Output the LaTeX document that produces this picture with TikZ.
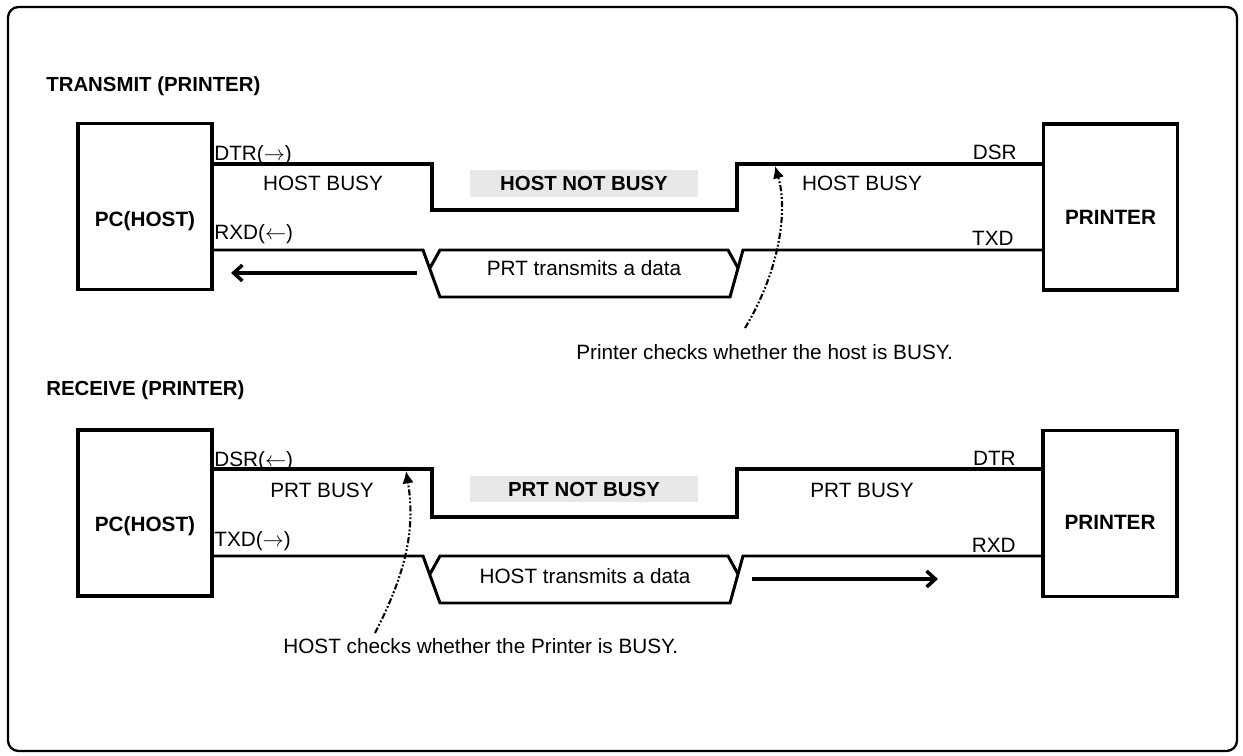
\documentclass[tikz,border=0pt]{standalone}
\usepackage{fontspec}
\setmainfont{Liberation Sans}
\usetikzlibrary{positioning,arrows.meta}
\definecolor{stategray}{RGB}{232,232,232}
\tikzstyle{unit} = [rectangle, draw, line width=2.1pt, minimum width=2.68cm, minimum height=3.32cm, outer sep=0pt]
\tikzstyle{unittext} = [font=\bfseries\fontsize{11.8}{14}\selectfont, inner sep=0pt]
\tikzstyle{title} = [font=\bfseries\fontsize{11.6}{14}\selectfont, inner sep=0pt]
\tikzstyle{sigtext} = [font=\fontsize{11.8}{14}\selectfont, inner sep=0pt]
\tikzstyle{state} = [rectangle, fill=stategray, minimum width=4.56cm, minimum height=0.47cm, font=\bfseries\fontsize{11.6}{14}\selectfont]
\tikzstyle{sig} = [line width=2pt, line join=miter]
\tikzstyle{bus} = [line width=1.7pt]
\tikzstyle{flow} = [line width=2pt, -{Straight Barb[length=5pt,width=9pt]}]
\tikzstyle{check} = [line width=1.2pt, dash pattern=on 3.5pt off 1.2pt on 1pt off 1.2pt on 1pt off 1.2pt, -{Latex[length=7pt,width=6.5pt]}]

\begin{document}
\begin{tikzpicture}[x=0.02cm, y=-0.02cm]
\useasboundingbox (0,0) rectangle (1243,756);

% Frame
\draw[line width=1.3pt, rounded corners=6pt] (8,7) rectangle (1237,751);

% ---------------- TRANSMIT (PRINTER) ----------------
\node[title, anchor=base west] (txtitle) at (46,92) {TRANSMIT (PRINTER)};

% Host and printer
\node[unit] (pc1) at (145,206.5) {};
\node[unittext, anchor=base, yshift=-0.4cm] (pc1txt) at (pc1.center) {PC(HOST)};
\node[unit] (prt1) at (1110.5,207) {};
\node[unittext, anchor=base, yshift=-0.36cm] (prt1txt) at (prt1.center) {PRINTER};

% Levels
\coordinate (hi1) at (0,164);
\coordinate (bt1) at (0,250);

% DTR -> DSR
\draw[sig] (pc1.east |- hi1) -- (432,164) -- (432,210) -- (737,210) -- (737,164) -- (prt1.west |- hi1);

% RXD <- TXD
\draw[bus] (pc1.east |- bt1) -- (423,250) -- (440,297) -- (730,297) -- (743,250) -- (prt1.west |- bt1);
\draw[bus] (430,268) -- (440,250) -- (728,250) -- (738,268);

% Signal names
\node[sigtext, anchor=base west] (dtr1) at (214,161) {DTR($\rightarrow$)};
\node[sigtext, anchor=base west] (rxd1) at (214,240) {RXD($\leftarrow$)};
\node[sigtext, anchor=base east] (dsr1) at (1017,160) {DSR};
\node[sigtext, anchor=base east] (txd1) at (1014,246) {TXD};

% States
\node[sigtext, anchor=base] (busy1a) at (323,191) {HOST BUSY};
\node[sigtext, anchor=base] (busy1b) at (862,191) {HOST BUSY};
\node[state] (free1) at (584,183.5) {HOST NOT BUSY};
\node[sigtext, anchor=base] (data1) at (584,276) {PRT transmits a data};

% Data direction
\coordinate (rx1from) at (417,273);
\coordinate (rx1to) at (231,273);
\draw[flow] (rx1from) -- (rx1to);

% Printer check
\node[sigtext, anchor=base west] (note1) at (576,360) {Printer checks whether the host is BUSY.};
\coordinate (chk1from) at (745,328);
\coordinate (chk1) at (775,166);
\draw[check] (chk1from) .. controls (780,270) and (788,210) .. (chk1);

% ---------------- RECEIVE (PRINTER) ----------------
\node[title, anchor=base west] (rxtitle) at (46,396) {RECEIVE (PRINTER)};

% Host and printer
\node[unit] (pc2) at (145,513) {};
\node[unittext, anchor=base, yshift=-0.38cm] (pc2txt) at (pc2.center) {PC(HOST)};
\node[unit] (prt2) at (1110,513.5) {};
\node[unittext, anchor=base, yshift=-0.33cm] (prt2txt) at (prt2.center) {PRINTER};

% Levels
\coordinate (hi2) at (0,469);
\coordinate (bt2) at (0,556);

% DSR <- DTR
\draw[sig] (pc2.east |- hi2) -- (432,469) -- (432,517) -- (737,517) -- (737,469) -- (prt2.west |- hi2);

% TXD -> RXD
\draw[bus] (pc2.east |- bt2) -- (423,556) -- (440,603) -- (730,603) -- (743,556) -- (prt2.west |- bt2);
\draw[bus] (430,574) -- (440,556) -- (728,556) -- (738,574);

% Signal names
\node[sigtext, anchor=base west] (dsr2) at (214,466) {DSR($\leftarrow$)};
\node[sigtext, anchor=base west] (txd2) at (214,546) {TXD($\rightarrow$)};
\node[sigtext, anchor=base east] (dtr2) at (1016,465) {DTR};
\node[sigtext, anchor=base east] (rxd2) at (1016,552) {RXD};

% States
\node[sigtext, anchor=base] (busy2a) at (322,497) {PRT BUSY};
\node[sigtext, anchor=base] (busy2b) at (862,497) {PRT BUSY};
\node[state] (free2) at (584,489) {PRT NOT BUSY};
\node[sigtext, anchor=base] (data2) at (585,583) {HOST transmits a data};

% Data direction
\coordinate (tx2from) at (752,579);
\coordinate (tx2to) at (938,579);
\draw[flow] (tx2from) -- (tx2to);

% Host check
\node[sigtext, anchor=base west] (note2) at (283,653) {HOST checks whether the Printer is BUSY.};
\coordinate (chk2from) at (375,633);
\coordinate (chk2) at (406,471);
\draw[check] (chk2from) .. controls (405,575) and (416,530) .. (chk2);

\end{tikzpicture}
\end{document}
